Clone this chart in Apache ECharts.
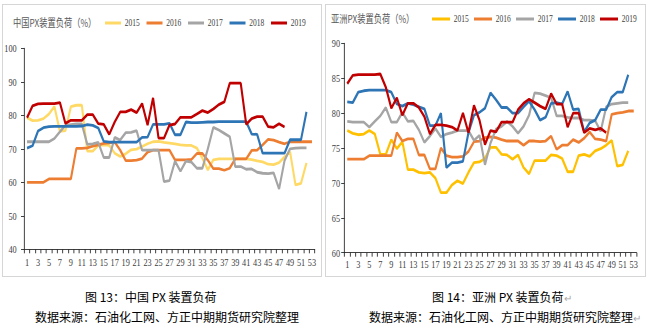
<!DOCTYPE html>
<html>
<head>
<meta charset="utf-8">
<script src="https://cdn.jsdelivr.net/npm/echarts@6/dist/echarts.min.js"></script>
<style>
  html, body { margin: 0; padding: 0; background: #fff; }
  body { width: 646px; height: 331px; position: relative; overflow: hidden; font-family: "Noto Sans CJK SC", sans-serif; }
  .box { position: absolute; top: 4px; height: 273px; border: 1px solid #d6d6d6; box-sizing: border-box; }
  .chart { position: absolute; top: 0; height: 280px; transform-origin: 0 0; }
  .cap { position: absolute; font-size: 12px; line-height: 14px; white-space: nowrap; color: #000; }
  .pm { color: #a8a8a8; font-size: 10px; }
</style>
</head>
<body>
<div class="box" style="left:2px;width:320px"></div>
<div class="box" style="left:325px;width:321px"></div>
<div id="c1" class="chart"></div>
<div id="c2" class="chart"></div>
<div class="cap" style="left:85px;top:290px">图 13：中国 PX 装置负荷</div>
<div class="cap" style="left:35px;top:310px">数据来源：石油化工网、方正中期期货研究院整理</div>
<div class="cap" style="left:432px;top:290px">图 14：亚洲 PX 装置负荷<span class="pm">↵</span></div>
<div class="cap" style="left:369px;top:310px">数据来源：石油化工网、方正中期期货研究院整理<span class="pm">↵</span></div>
<script>
// week numbers on the category axis
const weeks = ['1','2','3','4','5','6','7','8','9','10','11','12','13','14','15','16','17','18','19','20',
  '21','22','23','24','25','26','27','28','29','30','31','32','33','34','35','36','37','38','39','40',
  '41','42','43','44','45','46','47','48','49','50','51','52','53'];
const years = ['2015', '2016', '2017', '2018', '2019'];

// China PX unit operating rate (%)
const china2015 = [79.3, 78.4, 78.5, 79.0, 80.4, 82.6, 75.2, 75.4, 82.6, 83.0, 83.0, 69.3, 69.3, 71.0, 71.2, 71.0, 68.7, 67.7, 68.5, 69.7,
  69.9, 70.7, 71.5, 72.1, 72.2, 71.9, 71.7, 71.5, 71.2, 71.0, 71.0, 70.2, 67.2, 63.7, 66.7, 67.0, 67.0, 67.0, 67.0, 67.0,
  67.0, 66.8, 66.4, 66.1, 65.4, 65.3, 65.9, 67.6, 69.1, 59.2, 59.7, 65.8];
const china2016 = [60.0, 60.0, 60.0, 60.0, 61.0, 61.0, 61.0, 61.0, 61.0, 70.1, 70.1, 70.3, 70.8, 71.2, 71.6, 71.8, 72.0, 69.6, 66.5, 66.5,
  66.6, 67.1, 69.0, 69.6, 69.6, 69.6, 69.6, 66.7, 66.7, 66.7, 66.8, 68.6, 68.6, 66.6, 64.1, 64.1, 63.6, 64.2, 67.0, 67.0,
  67.0, 69.5, 69.6, 71.2, 72.8, 72.6, 72.0, 71.5, 72.1, 72.1, 72.1, 72.1, 72.1];
const china2017 = [72.1, 72.1, 72.1, 72.1, 72.1, 73.1, 75.1, 77.0, 77.2, 77.4, 77.4, 71.3, 71.5, 71.9, 67.4, 67.4, 73.4, 72.6, 74.8, 74.9,
  75.4, 69.6, 69.6, 69.6, 69.6, 60.2, 60.5, 66.3, 63.3, 66.3, 66.0, 64.2, 64.2, 70.0, 76.4, 75.6, 74.6, 73.6, 64.7, 64.7,
  63.9, 64.0, 63.0, 62.7, 62.6, 62.8, 58.0, 66.5, 70.0, 70.2, 70.3, 70.3];
const china2018 = [70.2, 70.9, 75.3, 76.3, 76.6, 76.7, 76.7, 76.7, 76.7, 76.7, 76.8, 77.2, 77.0, 76.2, 72.2, 72.0, 72.0, 72.0, 72.0, 72.0,
  72.0, 73.4, 73.5, 77.3, 77.3, 77.3, 77.6, 74.2, 74.2, 78.0, 77.8, 77.8, 77.9, 78.0, 78.0, 78.1, 78.1, 78.1, 78.1, 78.1,
  78.1, 74.4, 74.3, 68.7, 68.7, 68.7, 68.7, 68.7, 72.7, 72.7, 72.7, 81.0];
const china2019 = [79.3, 82.8, 83.4, 83.5, 83.5, 83.5, 83.8, 77.6, 78.5, 78.5, 78.5, 80.2, 80.2, 77.5, 77.3, 74.3, 78.0, 81.0, 81.0, 81.7,
  80.8, 83.5, 77.1, 85.2, 73.2, 73.2, 77.1, 77.4, 79.4, 79.4, 79.4, 80.4, 81.4, 80.8, 81.9, 83.2, 84.0, 89.6, 89.6, 89.6,
  77.3, 79.0, 79.6, 79.6, 76.6, 76.4, 77.5, 76.5];

// Asia PX unit operating rate (%)
const asia2015 = [77.5, 77.1, 76.9, 77.0, 77.5, 77.0, 74.1, 74.1, 76.2, 74.9, 75.9, 71.9, 71.9, 71.5, 71.4, 71.5, 70.7, 68.6, 68.6, 69.7,
  70.3, 69.9, 71.5, 72.9, 73.0, 73.5, 75.1, 75.1, 74.1, 74.0, 73.4, 74.0, 72.2, 71.3, 73.2, 73.2, 73.2, 74.0, 73.9, 73.5,
  71.6, 71.6, 73.9, 74.1, 73.8, 74.6, 74.9, 75.4, 76.1, 72.4, 72.6, 74.6];
const asia2016 = [73.4, 73.4, 73.4, 73.4, 73.9, 73.9, 73.9, 73.9, 73.9, 77.2, 76.0, 76.3, 76.3, 74.0, 74.0, 72.0, 72.0, 75.0, 73.9, 73.7,
  73.7, 73.8, 74.5, 75.9, 76.0, 76.5, 76.6, 76.5, 76.2, 76.0, 76.0, 76.0, 75.4, 76.0, 76.0, 75.9, 76.0, 76.7, 74.8, 75.4,
  75.4, 76.2, 75.8, 76.4, 77.3, 76.3, 76.2, 76.0, 79.8, 80.0, 80.1, 80.3, 80.3];
const asia2017 = [78.8, 78.7, 78.7, 78.7, 78.0, 78.8, 79.6, 80.8, 78.7, 78.7, 80.1, 78.8, 78.9, 77.6, 75.8, 76.7, 77.8, 76.6, 77.0, 77.2,
  77.5, 77.5, 77.5, 76.1, 76.8, 72.6, 75.7, 77.7, 78.1, 78.8, 78.1, 77.1, 78.1, 79.7, 82.9, 82.8, 82.5, 82.2, 79.6, 79.6,
  79.4, 79.3, 79.3, 79.0, 79.0, 78.9, 77.4, 80.9, 81.3, 81.4, 81.5, 81.5];
const asia2018 = [81.6, 81.5, 83.0, 83.2, 83.3, 83.3, 83.3, 83.3, 83.0, 81.3, 81.0, 81.4, 81.2, 80.9, 80.6, 78.2, 78.2, 80.0, 72.2, 72.9,
  72.9, 73.1, 77.2, 79.7, 80.1, 80.7, 82.9, 81.9, 80.8, 80.8, 80.0, 80.0, 80.9, 81.7, 80.5, 79.0, 79.4, 81.4, 81.5, 81.3,
  83.1, 80.5, 80.6, 77.3, 78.6, 79.0, 80.5, 80.5, 82.3, 83.0, 83.0, 85.5];
const asia2019 = [84.2, 85.4, 85.5, 85.5, 85.5, 85.5, 85.6, 83.7, 80.7, 82.2, 79.7, 81.4, 81.4, 80.8, 79.5, 77.0, 78.3, 78.3, 78.2, 78.0,
  77.5, 80.0, 77.2, 81.1, 79.0, 75.5, 77.5, 77.3, 78.7, 78.7, 78.7, 80.5, 81.4, 82.0, 81.5, 81.0, 80.6, 82.8, 81.3, 81.3,
  78.0, 80.0, 80.0, 77.2, 77.8, 77.6, 77.8, 77.2];

// the embedded charts are horizontally condensed
const SX = 0.75;
const serif = '"Liberation Serif", "Times New Roman", serif';
const cjk = '"Noto Sans CJK SC", sans-serif';

function build(el, pageLeft, cfg) {
  el.style.left = pageLeft + 'px';
  el.style.width = (323 / SX) + 'px';
  el.style.transform = 'scaleX(' + SX + ')';
  const chart = echarts.init(el, null, { renderer: 'svg' });
  const axisColor = '#262626';
  chart.setOption({
    animation: false,
    backgroundColor: 'transparent',
    title: {
      text: cfg.title, left: cfg.titleLeft / SX, top: cfg.titleTop, padding: 0,
      textStyle: { fontFamily: cjk, fontSize: 11, fontWeight: 'normal', color: '#595959' }
    },
    legend: {
      data: years, left: cfg.legendLeft / SX, top: cfg.legendTop, padding: 0,
      icon: 'rect', itemWidth: cfg.legendItemW / SX, itemHeight: 3, itemGap: cfg.legendGap,
      textStyle: { fontFamily: serif, fontSize: 10, color: '#404040' }
    },
    grid: { left: cfg.gridLeft / SX, top: cfg.gridTop, width: cfg.gridW / SX, height: cfg.gridH },
    xAxis: {
      type: 'category', data: weeks, boundaryGap: true,
      axisLine: { lineStyle: { color: axisColor, width: 1 } },
      axisTick: { show: true, interval: 0, length: 4, lineStyle: { color: axisColor } },
      axisLabel: { interval: 1, fontFamily: serif, fontSize: 11, color: '#404040', margin: cfg.xMargin }
    },
    yAxis: {
      type: 'value', min: cfg.yMin, max: cfg.yMax, interval: cfg.yStep,
      axisLine: { show: true, lineStyle: { color: axisColor, width: 1 } },
      axisTick: { show: true, length: 4.4, lineStyle: { color: axisColor } },
      splitLine: { show: false },
      axisLabel: { fontFamily: serif, fontSize: 11, color: '#404040', margin: cfg.yMargin / SX }
    },
    series: years.map((y, i) => ({
      name: y, type: 'line', data: cfg.data[i], symbol: 'none', showSymbol: false,
      color: cfg.colors[i], lineStyle: { width: 2.8, color: cfg.colors[i] }
    }))
  });
}

build(document.getElementById('c1'), 0, {
  title: '中国PX装置负荷（%）', titleLeft: 13, titleTop: 17,
  legendLeft: 105, legendTop: 18, legendItemW: 16, legendGap: 9,
  gridLeft: 24.3, gridTop: 48.3, gridW: 290.4, gridH: 201,
  yMin: 40, yMax: 100, yStep: 10, yMargin: 7.6, xMargin: 7,
  colors: ['#FFD966', '#ED7D31', '#A5A5A5', '#2E75B6', '#C00000'],
  data: [china2015, china2016, china2017, china2018, china2019]
});

build(document.getElementById('c2'), 323, {
  title: '亚洲PX装置负荷（%）', titleLeft: 8, titleTop: 13,
  legendLeft: 109, legendTop: 14, legendItemW: 18, legendGap: 7,
  gridLeft: 21.5, gridTop: 43.3, gridW: 292, gridH: 209.4,
  yMin: 60, yMax: 90, yStep: 5, yMargin: 4.5, xMargin: 6,
  colors: ['#FFC000', '#ED7D31', '#A5A5A5', '#2E75B6', '#C00000'],
  data: [asia2015, asia2016, asia2017, asia2018, asia2019]
});
</script>
</body>
</html>
